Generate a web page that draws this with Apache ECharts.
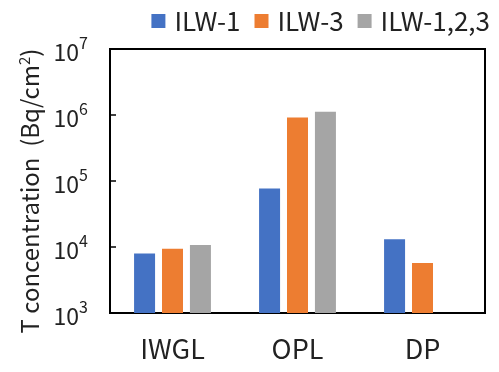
<!DOCTYPE html>
<html>
<head>
<meta charset="utf-8">
<script src="https://cdn.jsdelivr.net/npm/echarts@6/dist/echarts.min.js"></script>
<style>
  html, body { margin: 0; padding: 0; background: #fff; }
  #chart { width: 499px; height: 372px; }
</style>
</head>
<body>
<div id="chart"></div>
<script>
// Sample locations along the x axis
const categories = ['IWGL', 'OPL', 'DP'];

// Tritium concentration per waste group (Bq/cm²)
const ilw1 = [8000, 77000, 13100];
const ilw3 = [9400, 920000, 5700];
const ilw123 = [10700, 1120000, null];

const seriesNames = ['ILW-1', 'ILW-3', 'ILW-1,2,3'];
const seriesColors = ['#4472C4', '#ED7D31', '#A5A5A5'];

const FONT = '"Noto Sans CJK KR", "Noto Sans", sans-serif';

const chart = echarts.init(document.getElementById('chart'), null, { renderer: 'canvas' });

function barSeries(name, data, color) {
  return {
    name: name,
    type: 'bar',
    data: data,
    barWidth: 21,
    barGap: '33%',
    itemStyle: { color: color },
    emphasis: { disabled: true }
  };
}

chart.setOption({
  animation: false,
  textStyle: { fontFamily: FONT },
  grid: {
    left: 110, right: 14, top: 49, bottom: 59,
    show: true, borderColor: '#000', borderWidth: 2
  },
  legend: {
    data: seriesNames,
    right: 4, top: 3,
    icon: 'rect',
    itemWidth: 14, itemHeight: 14,
    itemGap: 14,
    textStyle: { fontFamily: FONT, fontSize: 26, color: '#222', padding: [0, 0, 0, 4] }
  },
  xAxis: {
    type: 'category',
    data: categories,
    axisLine: { lineStyle: { color: '#000', width: 2 } },
    axisTick: { show: false },
    axisLabel: { fontFamily: FONT, fontSize: 27, color: '#222', margin: 22 }
  },
  yAxis: {
    type: 'log',
    logBase: 10,
    min: 1e3,
    max: 1e7,
    name: 'T concentration  (Bq/cm{sup|2})',
    nameLocation: 'middle',
    nameGap: 68,
    nameTextStyle: {
      fontFamily: FONT, fontSize: 24, color: '#222',
      padding: [0, 20, 0, 0],
      rich: { sup: { fontFamily: FONT, fontSize: 15, color: '#222', verticalAlign: 'top', padding: [0, 0, 10, 0] } }
    },
    axisLine: { show: true, lineStyle: { color: '#000', width: 2 } },
    axisTick: { show: true, inside: true, length: 6, lineStyle: { color: '#000', width: 1.5 } },
    splitLine: { show: false },
    minorTick: { show: false },
    axisLabel: {
      color: '#222',
      margin: 22,
      formatter: function (v) {
        const e = Math.round(Math.log10(v));
        return '{b|10}{s|' + e + '}';
      },
      rich: {
        b: { fontFamily: FONT, fontSize: 23, color: '#222', padding: [6, 0, 0, 0] },
        s: { fontFamily: FONT, fontSize: 16, color: '#222', verticalAlign: 'top', padding: [0, 0, 12, 0] }
      }
    }
  },
  series: [
    barSeries(seriesNames[0], ilw1, seriesColors[0]),
    barSeries(seriesNames[1], ilw3, seriesColors[1]),
    barSeries(seriesNames[2], ilw123, seriesColors[2])
  ]
});
</script>
</body>
</html>
